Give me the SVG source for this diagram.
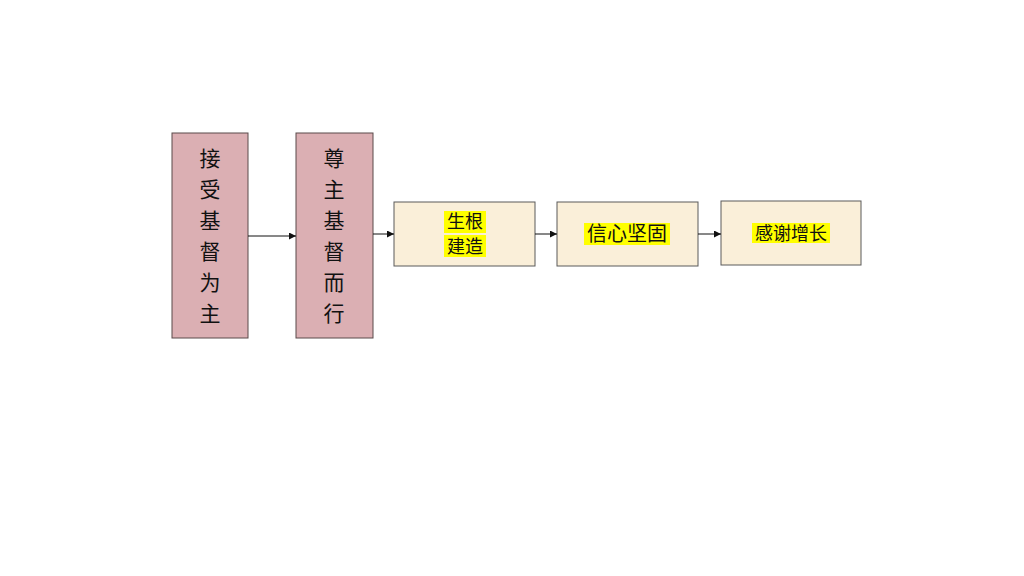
<svg xmlns="http://www.w3.org/2000/svg" width="1024" height="576" viewBox="0 0 1024 576">
<style>
.pink{fill:#dbafb3;stroke:#5a4a4a;stroke-width:1}
.cream{fill:#faefd9;stroke:#5a5a5a;stroke-width:1}
.vt{font-family:"Noto Sans CJK SC","Liberation Sans",sans-serif;font-size:21px;fill:#111;text-anchor:middle}
.ht{font-family:"Noto Sans CJK SC","Liberation Sans",sans-serif;fill:#111;text-anchor:middle}
.hl{fill:#ffff00}
.conn line{stroke:#111;stroke-width:1;marker-end:url(#ah)}
</style>
<defs>
<marker id="ah" viewBox="0 0 8 8" refX="8" refY="4" markerWidth="7" markerHeight="7" markerUnits="userSpaceOnUse" orient="auto">
<path d="M0,0 L8,4 L0,8 z" fill="#111"/>
</marker>
</defs>
<rect width="1024" height="576" fill="#fff"/>
<g id="node1">
<rect class="pink" x="172" y="133" width="76" height="205"/>
<text class="vt" x="210" y="166">接</text>
<text class="vt" x="210" y="197">受</text>
<text class="vt" x="210" y="228">基</text>
<text class="vt" x="210" y="259">督</text>
<text class="vt" x="210" y="290">为</text>
<text class="vt" x="210" y="321">主</text>
</g>
<g id="node2">
<rect class="pink" x="296" y="133" width="77" height="205"/>
<text class="vt" x="334" y="166">尊</text>
<text class="vt" x="334" y="197">主</text>
<text class="vt" x="334" y="228">基</text>
<text class="vt" x="334" y="259">督</text>
<text class="vt" x="334" y="290">而</text>
<text class="vt" x="334" y="321">行</text>
</g>
<g id="node3">
<rect class="cream" x="394" y="202" width="141" height="64"/>
<rect class="hl" x="444" y="211" width="42" height="22"/>
<rect class="hl" x="444" y="235" width="42" height="22"/>
<text class="ht" x="465" y="228" font-size="18">生根</text>
<text class="ht" x="465" y="253" font-size="18">建造</text>
</g>
<g id="node4">
<rect class="cream" x="557" y="202" width="141" height="64"/>
<rect class="hl" x="584" y="223" width="86" height="22"/>
<text class="ht" x="627" y="241" font-size="20">信心坚固</text>
</g>
<g id="node5">
<rect class="cream" x="721" y="201" width="140" height="64"/>
<rect class="hl" x="752" y="223" width="78" height="20"/>
<text class="ht" x="791" y="240" font-size="18">感谢增长</text>
</g>
<g class="conn" id="connectors">
<line x1="248" y1="236" x2="296" y2="236"/>
<line x1="373" y1="234" x2="394" y2="234"/>
<line x1="535" y1="234" x2="557" y2="234"/>
<line x1="698" y1="234" x2="721" y2="234"/>
</g>
</svg>
